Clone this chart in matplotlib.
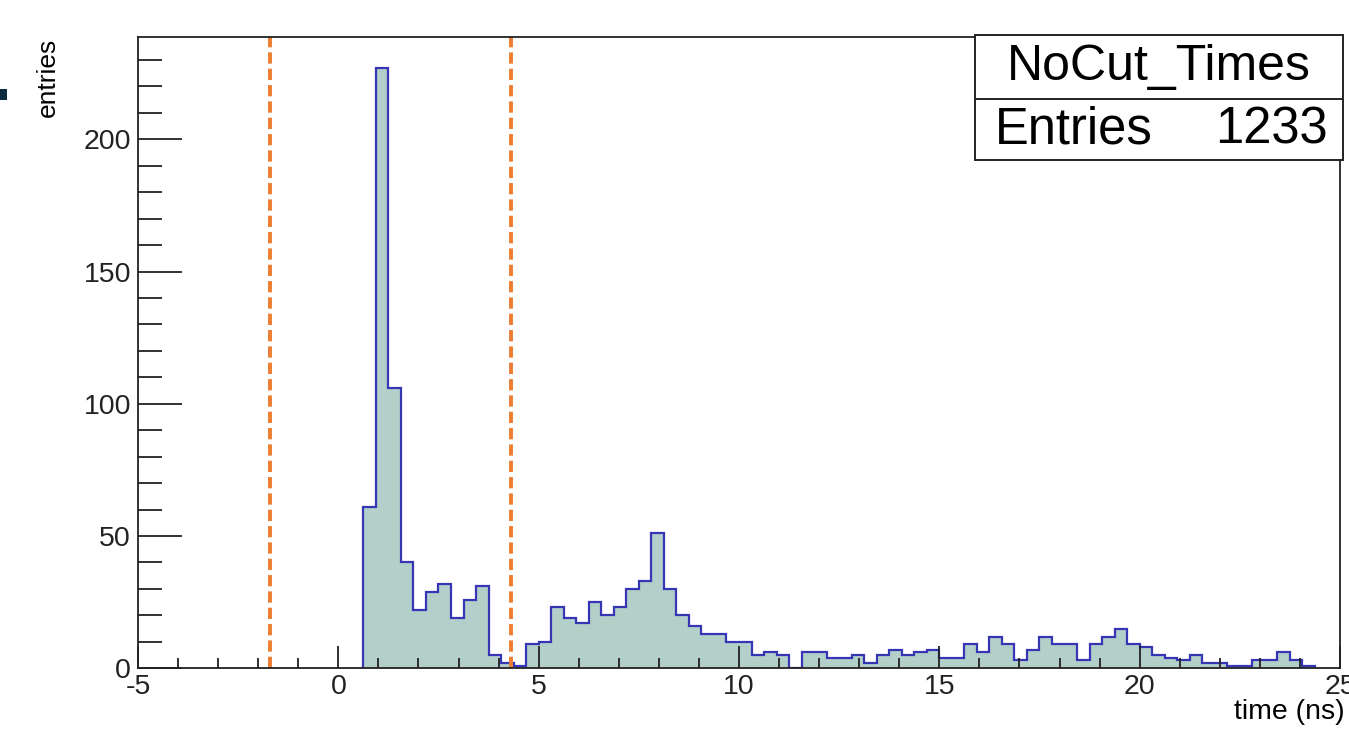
import numpy as np
import matplotlib
matplotlib.use("Agg")
import matplotlib.pyplot as plt
from matplotlib.patches import Rectangle

plt.rcParams['font.family'] = ['Liberation Sans', 'DejaVu Sans']
plt.rcParams['axes.unicode_minus'] = False

# histogram: 0.3125 ns bins, first filled bin starts at 0.625 ns
bin_start = 0.625
bin_width = 0.3125
counts = [61, 227, 106, 40, 22, 29, 32, 19, 26, 31, 5, 2, 1,
          9, 10, 23, 19, 17, 25, 20, 23, 30, 33, 51, 30, 20, 16, 13, 13, 10, 10,
          5, 6, 5, 0, 6, 6, 4, 4, 5, 2, 5, 7, 5, 6, 7, 4, 4, 9, 6, 12, 9,
          3, 7, 12, 9, 9, 3, 9, 12, 15, 9, 8, 5, 4, 3, 5, 2, 2, 1, 1, 3, 3, 6, 3, 1]
cut_lines = [-1.7, 4.3]
hist_name = "NoCut_Times"
n_entries = 1233

edges = bin_start + bin_width * np.arange(len(counts) + 1)

fig = plt.figure(figsize=(13.49, 7.31), dpi=100)
ax = fig.add_axes([0.1023, 0.0858, 0.8910, 0.8636])

ax.stairs(counts, edges, fill=True, color='#b3cfc9', lw=0)
ax.stairs(counts, edges, color='#3535b5', lw=1.6)

for xc in cut_lines:
    ax.axvline(xc, color='#ed7d31', lw=2.8, dashes=(2.9, 1.3))

ax.set_xlim(-5, 25)
ax.set_ylim(0, 238.7)

ax.set_xticks([-5, 0, 5, 10, 15, 20, 25])
ax.set_xticks(np.arange(-5, 26, 1), minor=True)
ax.set_yticks([0, 50, 100, 150, 200])
ax.set_yticks(np.arange(0, 231, 10), minor=True)
ax.tick_params(axis='both', which='both', direction='in', colors='#222222',
               labelsize=20.5, width=1.3)
ax.tick_params(axis='x', which='major', length=16, pad=4)
ax.tick_params(axis='x', which='minor', length=7)
ax.tick_params(axis='y', which='major', length=32, pad=5)
ax.tick_params(axis='y', which='minor', length=17)

for s in ax.spines.values():
    s.set_linewidth(1.3)
    s.set_color('#222222')

fig.text(1345 / 1349, 1 - 712 / 731, "time (ns)", ha='right', va='center', fontsize=20.5)
fig.text(48 / 1349, 1 - 38 / 731, "entries", ha='center', va='top', rotation=90, fontsize=19)

# stat box
x0, x1 = 975 / 1349, 1343 / 1349
yt, yd, yb = 1 - 35 / 731, 1 - 99 / 731, 1 - 160 / 731
fig.patches.append(Rectangle((x0, yb), x1 - x0, yt - yb, transform=fig.transFigure,
                             facecolor='white', edgecolor='#222222', lw=1.4, zorder=5))
fig.add_artist(plt.Line2D([x0, x1], [yd, yd], transform=fig.transFigure,
                          color='#222222', lw=1.4, zorder=6))
fig.text((x0 + x1) / 2, (yt + yd) / 2, hist_name, ha='center', va='center',
         fontsize=36, zorder=7)
fig.text(995 / 1349, (yd + yb) / 2, "Entries", ha='left', va='center', fontsize=36.5, zorder=7)
fig.text(1328 / 1349, (yd + yb) / 2, str(n_entries), ha='right', va='center',
         fontsize=36.5, zorder=7)

# small dark marker at the left edge of the slide
fig.patches.append(Rectangle((0, 1 - 100 / 731), 7 / 1349, 11 / 731,
                             transform=fig.transFigure, facecolor='#0d2b3e',
                             edgecolor='none'))

fig.savefig("out.png", dpi=100)
